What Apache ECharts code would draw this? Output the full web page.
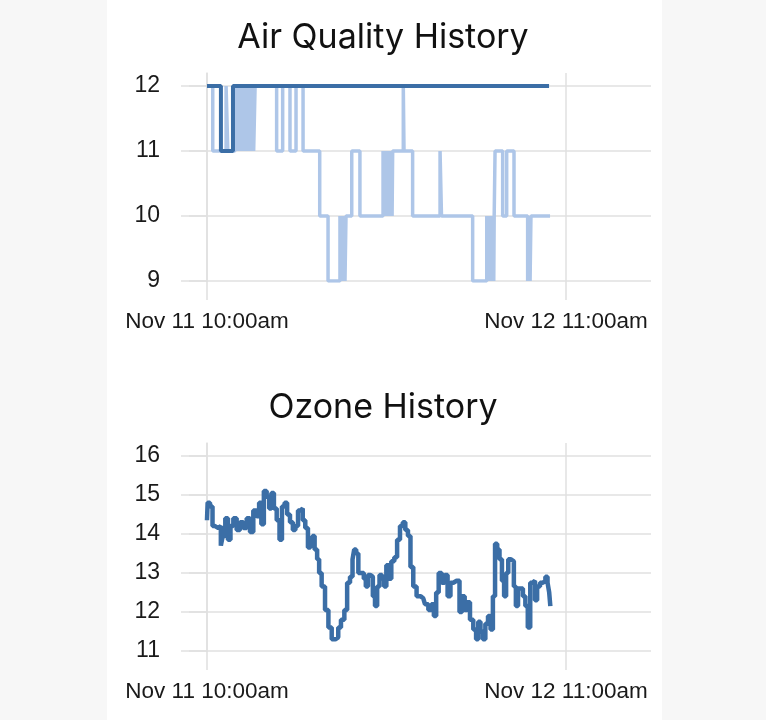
<!DOCTYPE html>
<html><head><meta charset="utf-8">
<script src="https://cdn.jsdelivr.net/npm/echarts@6/dist/echarts.min.js"></script>
<style>
html,body{margin:0;padding:0;background:#f7f7f7;}
#panel{position:absolute;left:107px;top:0;width:555px;height:720px;background:#fff;}
#chart{position:absolute;left:0;top:0;width:766px;height:720px;}
</style></head><body><div id="panel"></div><div id="chart"></div>
<script>
// hours since Nov 11 10:00am
const xTickValues = [0, 25];
const xTickLabels = ['Nov 11 10:00am', 'Nov 12 11:00am'];
const aqTicks = [9, 10, 11, 12];
const ozTicks = [11, 12, 13, 14, 15, 16];

const aqDark = [[0,12],[0.97,11],[1.81,12],[23.82,12]];

const aqLight = [
 [0,12],[0.40,11],[1.33,12],[1.45,11],[1.95,12],[2.05,11],[2.15,12],[2.25,11],[2.35,12],[2.45,11],
 [2.55,12],[2.65,11],[2.75,12],[2.85,11],[2.95,12],[3.05,11],[3.15,12],[3.25,11],[3.35,12],
 [4.85,11],[5.27,12],[5.78,11],[6.20,12],[6.69,11],[7.85,10],[8.43,9],
 [9.26,10],[9.33,9],[9.40,10],[9.47,9],[9.54,10],[9.61,9],[9.68,10],
 [10.08,11],[10.65,10],
 [12.26,11],[12.33,10],[12.40,11],[12.47,10],[12.54,11],[12.61,10],[12.68,11],[12.75,10],[12.82,11],[12.89,10],[12.93,11],
 [13.67,12],[13.72,11],[14.32,10],[16.23,11],[16.33,10],[18.50,9],
 [19.48,10],[19.55,9],[19.62,10],[19.69,9],[19.76,10],[19.83,9],[19.90,10],[19.97,9],[20.00,10],
 [20.06,11],[20.59,10],[20.87,11],[21.38,10],[22.33,9],[22.42,10],[22.50,9],[22.56,10],[23.89,10]
];

const ozone = [
 [0,14.35],[0.09,14.8],[0.33,14.7],[0.44,14.2],[0.68,14.15],[0.91,14.2],[1.02,13.7],[1.18,13.95],
 [1.37,14.4],[1.55,13.85],[1.72,14.2],[1.95,14.4],[2.18,14.1],[2.42,14.3],[2.65,14.15],[2.88,14.4],
 [3.11,14.05],[3.34,14.6],[3.57,14.45],[3.69,14.8],[3.88,14.25],[4.04,15.1],[4.27,14.95],[4.39,14.65],
 [4.58,15.05],[4.74,14.65],[4.97,14.35],[5.13,13.85],[5.31,14.7],[5.50,14.8],[5.66,14.5],[5.90,14.3],
 [6.06,14.1],[6.25,14.2],[6.43,14.6],[6.59,14.65],[6.75,14.35],[6.94,14.15],[7.12,13.65],[7.29,13.8],
 [7.40,13.95],[7.59,13.6],[7.75,13.35],[7.87,13.0],[8.10,12.65],[8.34,12.05],[8.57,11.6],[8.80,11.3],
 [9.07,11.35],[9.21,11.6],[9.45,11.8],[9.68,12.05],[9.84,12.75],[10.08,12.9],[10.19,13.35],[10.31,13.6],
 [10.47,13.5],[10.61,13.0],[10.84,13.0],[11.00,12.85],[11.12,12.65],[11.30,12.95],[11.47,12.9],[11.63,12.4],
 [11.77,12.15],[11.93,12.65],[12.10,12.95],[12.28,12.85],[12.40,12.65],[12.58,13.2],[12.74,12.85],[12.93,13.3],
 [13.16,13.4],[13.32,13.85],[13.56,14.2],[13.72,14.3],[13.90,14.1],[14.09,13.95],[14.25,13.15],[14.48,12.65],
 [14.71,12.4],[15.06,12.35],[15.30,12.2],[15.53,12.05],[15.72,12.2],[15.88,11.9],[16.04,12.5],[16.23,13.0],
 [16.46,12.75],[16.64,12.95],[16.87,12.4],[17.04,12.75],[17.27,12.8],[17.50,12.8],[17.67,12.0],[17.85,12.4],
 [18.04,12.05],[18.20,12.25],[18.43,11.8],[18.66,11.55],[18.82,11.3],[18.96,11.75],[19.13,11.5],[19.29,11.3],
 [19.48,11.7],[19.66,11.9],[19.83,11.55],[19.99,12.4],[20.13,13.75],[20.29,13.6],[20.45,13.35],[20.63,12.8],
 [20.75,12.4],[20.91,13.0],[21.05,13.35],[21.29,13.3],[21.45,12.65],[21.57,12.15],[21.75,12.6],[21.92,12.6],
 [22.08,12.4],[22.26,12.15],[22.42,11.6],[22.60,12.75],[22.77,12.8],[22.91,12.3],[23.07,12.65],[23.31,12.75],
 [23.47,12.8],[23.66,12.9],[23.77,12.75],[23.89,12.5],[23.93,12.15]
];

const GRID = '#e0e0e0';
const LABEL_FONT = 'Liberation Sans';
const X_MIN = -1.81, X_MAX = 30.92;

function xAxis(gi) {
  return {
    type: 'value', gridIndex: gi, min: X_MIN, max: X_MAX,
    axisLine: { show: false },
    axisTick: { show: true, length: 19, customValues: xTickValues, lineStyle: { color: GRID, width: 1.5 } },
    axisLabel: { customValues: xTickValues, margin: 29, fontSize: 22.5, color: '#1a1a1a', fontFamily: LABEL_FONT,
      formatter: v => { const i = xTickValues.indexOf(v); return i >= 0 ? xTickLabels[i] : ''; } },
    splitLine: { show: true, lineStyle: { color: GRID, width: 1.5 } }
  };
}
function yAxis(gi, min, max, ticks) {
  return {
    type: 'value', gridIndex: gi, min: min, max: max,
    axisLine: { show: true, lineStyle: { color: GRID, width: 1.5 } },
    axisTick: { show: true, length: 18, customValues: ticks, lineStyle: { color: GRID, width: 1.5 } },
    axisLabel: { customValues: ticks, margin: 21, fontSize: 23, color: '#1a1a1a', fontFamily: LABEL_FONT },
    splitLine: { show: true, lineStyle: { color: GRID, width: 1.5 } }
  };
}

const chart = echarts.init(document.getElementById('chart'), null, { renderer: 'canvas' });
chart.setOption({
  animation: false,
  title: [
    { text: 'Air Quality History', left: 'center', top: 16, textStyle: { fontFamily: 'Inter', fontSize: 34, fontWeight: 'normal', color: '#111' } },
    { text: 'Ozone History', left: 'center', top: 386, textStyle: { fontFamily: 'Inter', fontSize: 34, fontWeight: 'normal', color: '#111' } }
  ],
  grid: [
    { left: 181, top: 73, width: 470, height: 208 },
    { left: 181, top: 443, width: 470, height: 208 }
  ],
  xAxis: [xAxis(0), xAxis(1)],
  yAxis: [yAxis(0, 9, 12.2, aqTicks), yAxis(1, 11, 16.33, ozTicks)],
  series: [
    { type: 'line', xAxisIndex: 0, yAxisIndex: 0, data: aqLight, step: 'end', showSymbol: false,
      lineStyle: { color: '#aec6e8', width: 3.5 }, z: 2 },
    { type: 'line', xAxisIndex: 0, yAxisIndex: 0, data: aqDark, step: 'end', showSymbol: false,
      lineStyle: { color: '#3b6ea6', width: 4 }, z: 3 },
    { type: 'line', xAxisIndex: 1, yAxisIndex: 1, data: ozone, step: 'middle', showSymbol: false,
      lineStyle: { color: '#3b6ea6', width: 4.5 }, z: 3 }
  ]
});
</script></body></html>
